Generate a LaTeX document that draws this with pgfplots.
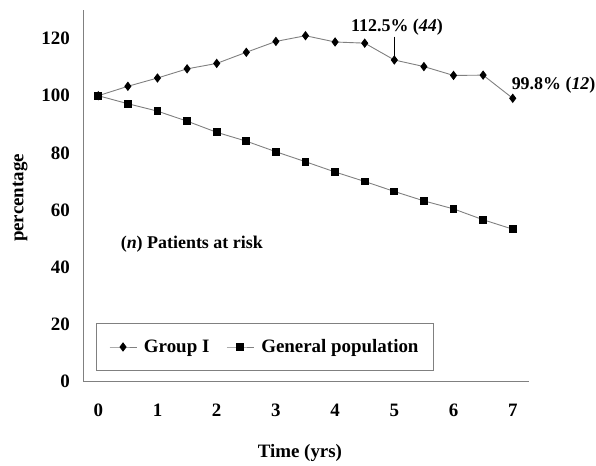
\documentclass[border=0pt]{standalone}
\usepackage{fontspec}
\setmainfont{Liberation Serif}
\usepackage{pgfplots}
\pgfplotsset{compat=1.18}
\definecolor{linegray}{HTML}{808080}
\newcommand\fs{\fontsize{18}{21}\selectfont\bfseries}
\newcommand\fl{\fontsize{19}{22}\selectfont\bfseries}
\begin{document}
\begin{tikzpicture}
\begin{axis}[
  scale only axis, width=445.7bp, height=371.5bp,
  xmin=-0.253, xmax=7.275, ymin=0, ymax=130,
  axis lines=left,
  axis line style={-, draw=linegray, line width=0.8bp},
  xtick={0,...,7}, ytick={0,20,...,120},
  major tick length=0pt,
  /pgf/number format/assume math mode=true,
  tick label style={font=\fl},
  xticklabel style={yshift=-19bp},
  yticklabel style={xshift=-10bp},
  xlabel={Time (yrs)}, ylabel={percentage},
  label style={font=\fl},
  xlabel style={at={(axis description cs:0.486,-0.1917)}, anchor=center},
  ylabel style={at={(axis description cs:-0.142,0.494)}, anchor=center},
  clip=false,
  legend columns=2,
  legend style={at={(axis description cs:0.0278,0.1567)}, anchor=north west,
    draw=linegray, line width=0.8bp, font=\fl, inner xsep=13bp, inner ysep=14bp,
    /tikz/every odd column/.append style={column sep=5bp},
    /tikz/every even column/.append style={column sep=15bp}},
  legend image code/.code={\draw[#1, mark repeat=2, mark phase=2] plot coordinates {(0bp,0bp) (13.5bp,0bp) (27bp,0bp)};},
]
\addplot[color=linegray, line width=0.9bp, mark=diamond*, mark size=4bp,
  mark options={fill=black, draw=black, solid}] coordinates {
  (0,100) (0.5,103.3) (1,106.2) (1.5,109.4) (2,111.3) (2.5,115.2) (3,119.0)
  (3.5,121.0) (4,118.8) (4.5,118.4) (5,112.5) (5.5,110.2) (6,107.1) (6.5,107.2) (7,99.1)};
\addlegendentry{Group I}
\addplot[color=linegray, line width=0.9bp, mark=square*, mark size=3.4bp,
  mark options={fill=black, draw=black, solid}] coordinates {
  (0,100) (0.5,97.2) (1,94.6) (1.5,91.1) (2,87.2) (2.5,84.1) (3,80.4)
  (3.5,76.9) (4,73.3) (4.5,70.0) (5,66.5) (5.5,63.2) (6,60.4) (6.5,56.6) (7,53.3)};
\addlegendentry{General population}
\draw[black, line width=0.8bp] (axis cs:5,120.7) -- (axis cs:5,112.5);
\node[font=\fs, anchor=center] at (axis cs:5.045,124.0) {112.5\% (\textit{44})};
\node[font=\fs, anchor=west, inner sep=0pt] at (axis cs:6.98,103.8) {99.8\% (\textit{12})};
\node[font=\fs, anchor=west, inner sep=0pt] at (axis cs:0.377,47.9) {(\textit{n}) Patients at risk};
\coordinate (bbsw) at (rel axis cs:-0.1869,-0.2248);
\coordinate (bbne) at (rel axis cs:1.1503,1.0269);
\end{axis}
\pgfresetboundingbox
\useasboundingbox (bbsw) rectangle (bbne);
\end{tikzpicture}
\end{document}
